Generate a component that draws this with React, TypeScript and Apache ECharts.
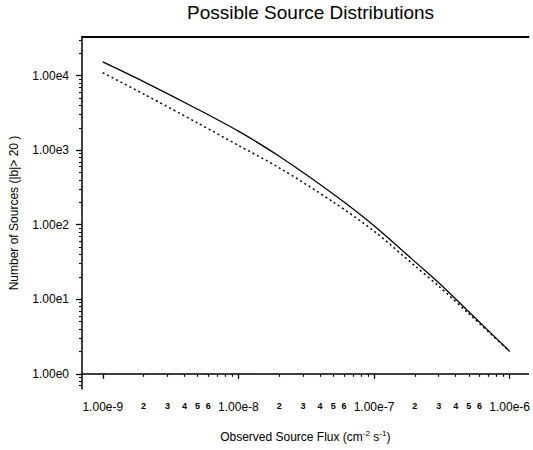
import React, { useEffect, useRef } from "react";
import * as echarts from "echarts";

// ---- data ----
const fluxValues = [1e-9, 2e-9, 5e-9, 1e-8, 2e-8, 5e-8, 1e-7, 2e-7, 3e-7, 5e-7, 1e-6];
const solidCounts = [15300, 8320, 3550, 1800, 828, 258, 97, 32, 16.7, 6.8, 2.0];
const dottedCounts = [10960, 5680, 2320, 1160, 581, 202, 82, 28.1, 15.0, 6.4, 2.0];

const xMajorTicks = [1e-9, 1e-8, 1e-7, 1e-6];
const xMinorDecades = [1e-9, 1e-8, 1e-7];
const minorMultipliers = [2, 3, 4, 5, 6, 7, 8, 9];
const labeledMultipliers = [2, 3, 4, 5, 6];
const yMajorTicks = [1, 10, 100, 1000, 10000];
const yMinorValues = [0.7, 0.8, 0.9, 2, 3, 4, 5, 6, 7, 8, 9, 20, 30, 40, 50, 60, 70, 80, 90, 200, 300, 400, 500, 600, 700, 800, 900, 2000, 3000, 4000, 5000, 6000, 7000, 8000, 9000, 20000, 30000];

const titleText = "Possible Source Distributions";
const xName = "Observed Source Flux (cm{sup|-2} s{sup|-1})";
const yName = "Number of Sources (|b|> 20 )";

// axis extents in log10 space
const X_MIN = -9.1533;
const X_MAX = -5.861;
const Y_MIN = -0.204;
const Y_MAX = 4.519;

const FONT = "'Liberation Sans', Arial, Helvetica, sans-serif";

export default function App() {
  const ref = useRef<HTMLDivElement>(null);

  useEffect(() => {
    if (!ref.current) return;
    const chart = echarts.init(ref.current, undefined, { renderer: "svg" });

    const lg = (v: number) => Math.log10(v);
    const xMinorTicks: number[] = [];
    const xMinorLabels: number[] = [];
    xMinorDecades.forEach((d) => {
      minorMultipliers.forEach((m) => xMinorTicks.push(lg(m * d)));
      labeledMultipliers.forEach((m) => xMinorLabels.push(lg(m * d)));
    });

    const majorFmt = (v: number) => "1.00e" + Math.round(v);
    const minorFmt = (v: number) => {
      const e = Math.floor(v + 1e-9);
      return String(Math.round(Math.pow(10, v - e)));
    };

    const solidData = fluxValues.map((f, i) => [lg(f), lg(solidCounts[i])]);
    const dottedData = fluxValues.map((f, i) => [lg(f), lg(dottedCounts[i])]);

    const axisLine = { show: true, lineStyle: { color: "#000", width: 1.5 } };

    chart.setOption({
      animation: false,
      backgroundColor: "#fff",
      title: {
        text: titleText,
        left: 187,
        top: 3,
        padding: 0,
        textStyle: { fontFamily: FONT, fontSize: 19, fontWeight: "normal", color: "#000" },
      },
      grid: { left: 82, right: 0, top: 37, bottom: 52, containLabel: false },
      xAxis: [
        {
          type: "value",
          position: "bottom",
          min: X_MIN,
          max: X_MAX,
          axisLine,
          splitLine: { show: false },
          axisTick: {
            show: true,
            length: 5,
            customValues: xMajorTicks.map(lg),
            lineStyle: { color: "#000", width: 1.3 },
          },
          axisLabel: {
            show: true,
            customValues: xMajorTicks.map(lg),
            formatter: majorFmt,
            margin: 12,
            fontFamily: FONT,
            fontSize: 12,
            color: "#000",
          },
          name: xName,
          nameLocation: "middle",
          nameGap: 40,
          nameTextStyle: {
            fontFamily: FONT,
            fontSize: 12,
            color: "#000",
            lineHeight: 16,
            rich: {
              sup: { fontFamily: FONT, fontSize: 8, color: "#000", verticalAlign: "top", lineHeight: 10 },
            },
          },
        },
        {
          type: "value",
          position: "bottom",
          min: X_MIN,
          max: X_MAX,
          axisLine: { show: false },
          splitLine: { show: false },
          axisTick: {
            show: true,
            length: 3,
            customValues: xMinorTicks,
            lineStyle: { color: "#000", width: 1.2 },
          },
          axisLabel: {
            show: true,
            customValues: xMinorLabels,
            formatter: minorFmt,
            margin: 12,
            fontFamily: FONT,
            fontSize: 9,
            fontWeight: "bold",
            color: "#000",
          },
        },
        {
          type: "value",
          position: "top",
          min: X_MIN,
          max: X_MAX,
          axisLine: { show: true, lineStyle: { color: "#000", width: 2 } },
          splitLine: { show: false },
          axisTick: { show: false },
          axisLabel: { show: false },
        },
      ],
      yAxis: [
        {
          type: "value",
          position: "left",
          min: Y_MIN,
          max: Y_MAX,
          axisLine,
          splitLine: { show: false },
          axisTick: {
            show: true,
            length: 6,
            customValues: yMajorTicks.map(lg),
            lineStyle: { color: "#000", width: 1.3 },
          },
          axisLabel: {
            show: true,
            customValues: yMajorTicks.map(lg),
            formatter: majorFmt,
            margin: 13,
            fontFamily: FONT,
            fontSize: 12,
            color: "#000",
          },
          name: yName,
          nameLocation: "middle",
          nameGap: 62,
          nameRotate: 90,
          nameTextStyle: { fontFamily: FONT, fontSize: 12, color: "#000" },
        },
        {
          type: "value",
          position: "left",
          min: Y_MIN,
          max: Y_MAX,
          axisLine: { show: false },
          splitLine: { show: false },
          axisTick: {
            show: true,
            length: 3,
            customValues: yMinorValues.map(lg),
            lineStyle: { color: "#000", width: 1.1 },
          },
          axisLabel: { show: false },
        },
      ],
      series: [
        {
          type: "line",
          name: "solid",
          xAxisIndex: 0,
          yAxisIndex: 0,
          data: solidData,
          smooth: 0.3,
          showSymbol: false,
          symbol: "none",
          lineStyle: { color: "#000", width: 1.3, type: "solid" },
        },
        {
          type: "line",
          name: "dotted",
          xAxisIndex: 0,
          yAxisIndex: 0,
          data: dottedData,
          smooth: 0.3,
          showSymbol: false,
          symbol: "none",
          lineStyle: { color: "#000", width: 1.5, type: [2, 3] },
        },
      ],
    });

    return () => chart.dispose();
  }, []);

  return (
    <div
      ref={ref}
      style={{ position: "fixed", left: 0, top: 0, width: 533, height: 450, background: "#fff" }}
    />
  );
}
